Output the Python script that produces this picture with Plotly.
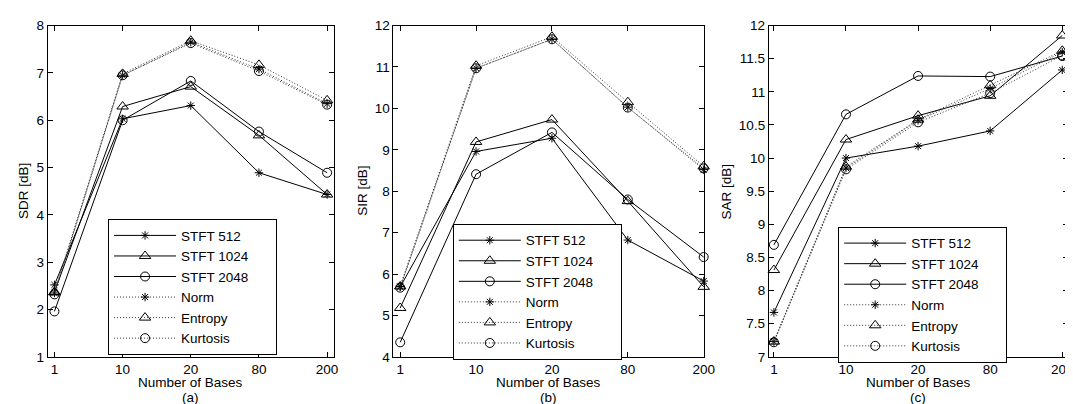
import plotly.graph_objects as go

bases = ["1", "10", "20", "80", "200"]
series_names = ["STFT 512", "STFT 1024", "STFT 2048", "Norm", "Entropy", "Kurtosis"]

sdr_stft512 = [2.52, 6.03, 6.31, 4.89, 4.43]
sdr_stft1024 = [2.37, 6.29, 6.71, 5.68, 4.43]
sdr_stft2048 = [1.96, 6.00, 6.83, 5.76, 4.89]
sdr_norm = [2.35, 6.95, 7.65, 7.08, 6.35]
sdr_entropy = [2.36, 6.98, 7.68, 7.17, 6.42]
sdr_kurtosis = [2.32, 6.95, 7.63, 7.04, 6.33]

sir_stft512 = [5.69, 8.96, 9.28, 6.82, 5.83]
sir_stft1024 = [5.18, 9.19, 9.73, 7.76, 5.69]
sir_stft2048 = [4.35, 8.41, 9.42, 7.80, 6.41]
sir_norm = [5.70, 10.97, 11.67, 10.03, 8.52]
sir_entropy = [5.70, 11.03, 11.73, 10.15, 8.60]
sir_kurtosis = [5.67, 10.97, 11.67, 10.02, 8.55]

sar_stft512 = [7.67, 10.00, 10.18, 10.41, 11.33]
sar_stft1024 = [8.31, 10.28, 10.64, 10.94, 11.85]
sar_stft2048 = [8.69, 10.66, 11.24, 11.23, 11.54]
sar_norm = [7.23, 9.85, 10.57, 11.05, 11.60]
sar_entropy = [7.23, 9.87, 10.58, 11.10, 11.62]
sar_kurtosis = [7.22, 9.83, 10.54, 10.98, 11.55]

W, H = 1073, 404
xi = list(range(len(bases)))

styles = [
    dict(dash="solid", symbol="asterisk-open", size=7, color="black"),
    dict(dash="solid", symbol="triangle-up-open", size=10, color="black"),
    dict(dash="solid", symbol="circle-open", size=9, color="black"),
    dict(dash="1px,2px", symbol="asterisk-open", size=7, color="#333333"),
    dict(dash="1px,2px", symbol="triangle-up-open", size=10, color="#333333"),
    dict(dash="1px,2px", symbol="circle-open", size=9, color="#333333"),
]

panels = [
    dict(data=[sdr_stft512, sdr_stft1024, sdr_stft2048, sdr_norm, sdr_entropy, sdr_kurtosis],
         px=(40, 329), xr=[-0.1, 4.1], yr=[1, 8], dtick=1, ytitle="SDR [dB]", ytx=15,
         label="(a)", leg=(101, 212)),
    dict(data=[sir_stft512, sir_stft1024, sir_stft2048, sir_norm, sir_entropy, sir_kurtosis],
         px=(389, 703), xr=[-0.09, 4.01], yr=[4, 12], dtick=1, ytitle="SIR [dB]", ytx=358,
         label="(b)", leg=(449, 217)),
    dict(data=[sar_stft512, sar_stft1024, sar_stft2048, sar_norm, sar_entropy, sar_kurtosis],
         px=(768, 1070), xr=[-0.07, 4.08], yr=[7, 12], dtick=0.5, ytitle="SAR [dB]", ytx=725,
         label="(c)", leg=(838, 220)),
]

ytop, ybot = 11, 355
ydom = [(H - ybot) / H, (H - ytop) / H]

fig = go.Figure()
font = dict(family="Liberation Sans, Arial, sans-serif", size=13.5, color="black")
annotations = []
layout = {}
pad = "\u00a0" * 6

for k, p in enumerate(panels):
    sfx = "" if k == 0 else str(k + 1)
    legname = "legend" + sfx
    for name, vals, st in zip(series_names, p["data"], styles):
        fig.add_trace(go.Scatter(
            x=xi, y=vals, name=name + pad, mode="lines+markers",
            xaxis="x" + sfx, yaxis="y" + sfx, legend=legname, cliponaxis=False,
            line=dict(color=st["color"], width=1, dash=st["dash"]),
            marker=dict(symbol=st["symbol"], size=st["size"], color="black",
                        line=dict(color="black", width=1)),
        ))
    xdom = [p["px"][0] / W, p["px"][1] / W]
    layout["xaxis" + sfx] = dict(
        domain=xdom, range=p["xr"], tickmode="array", tickvals=xi, ticktext=bases,
        showline=True, linecolor="black", linewidth=1, mirror="ticks",
        ticks="inside", ticklen=5, tickcolor="black", showgrid=False, zeroline=False,
        anchor="y" + sfx, tickfont=font,
    )
    layout["yaxis" + sfx] = dict(
        domain=ydom, range=p["yr"], dtick=p["dtick"], tick0=p["yr"][0],
        showline=True, linecolor="black", linewidth=1, mirror="ticks",
        ticks="inside", ticklen=5, tickcolor="black", showgrid=False, zeroline=False,
        anchor="x" + sfx, tickfont=font,
    )
    layout[legname] = dict(
        x=p["leg"][0] / W, y=(H - p["leg"][1]) / H, xanchor="left", yanchor="top",
        bordercolor="black", borderwidth=1, bgcolor="white", font=font,
        tracegroupgap=0, itemwidth=62,
    )
    xc = (p["px"][0] + p["px"][1]) / 2 / W
    annotations.append(dict(text="Number of Bases", x=xc, y=(H - 382) / H, xref="paper", yref="paper",
                            showarrow=False, font=font, xanchor="center", yanchor="middle"))
    annotations.append(dict(text=p["label"], x=xc, y=(H - 397) / H, xref="paper", yref="paper",
                            showarrow=False, font=font, xanchor="center", yanchor="middle"))
    annotations.append(dict(text=p["ytitle"], x=p["ytx"] / W, y=(H - 183) / H, xref="paper", yref="paper",
                            showarrow=False, font=font, textangle=-90, xanchor="center", yanchor="middle"))

fig.update_layout(
    width=W, height=H, margin=dict(l=0, r=0, t=0, b=0),
    paper_bgcolor="white", plot_bgcolor="white", font=font,
    annotations=annotations, showlegend=True, **layout,
)

fig.write_html("out.html")
